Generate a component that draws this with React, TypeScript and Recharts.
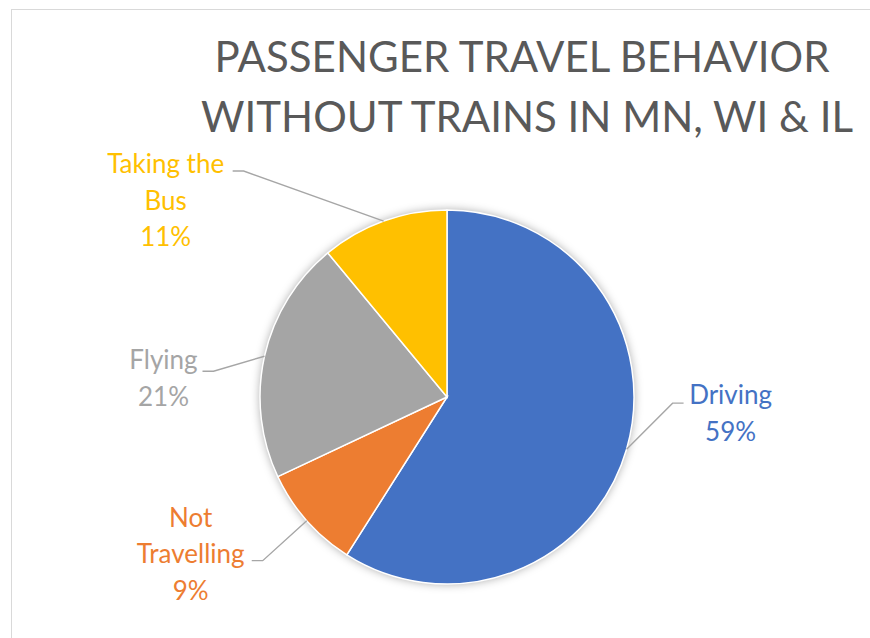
import { Cell, Pie, PieChart } from 'recharts'

const categories = ['Driving', 'Not Travelling', 'Flying', 'Taking the Bus']
const shares = [59, 9, 21, 11]
const labelLines = [['Driving'], ['Not', 'Travelling'], ['Flying'], ['Taking the', 'Bus']]
const titleLines = ['PASSENGER TRAVEL BEHAVIOR', 'WITHOUT TRAINS IN MN, WI & IL']

const COLORS = ['#4472C4', '#ED7D31', '#A5A5A5', '#FFC000']
const FONT = 'Lato, "Open Sans", sans-serif'
const NO_MARGIN = { top: 0, right: 0, bottom: 0, left: 0 }

// leader line layout, relative to the slice's outer edge point
const labelLayout = [
  { elbowX: 46, elbowY: -46, side: 1, textX: 47, textY: 1 },
  { elbowX: -44, elbowY: 40, side: -1, textX: -61, textY: -34 },
  { elbowX: -51, elbowY: 15, side: -1, textX: -39, textY: -2 },
  { elbowX: -140, elbowY: -50, side: -1, textX: -67, textY: 2 },
]

const data = categories.map((name, i) => ({ name, value: shares[i] }))
const RAD = Math.PI / 180

function renderLabel(props: any) {
  const { cx, cy, midAngle, outerRadius, percent, index } = props
  const lay = labelLayout[index]
  const ex = cx + outerRadius * Math.cos(-midAngle * RAD)
  const ey = cy + outerRadius * Math.sin(-midAngle * RAD)
  const bx = ex + lay.elbowX
  const by = ey + lay.elbowY
  const lx = bx + lay.side * 11
  const lines = [...labelLines[index], `${Math.round(percent * 100)}%`]
  return (
    <g key={`lbl-${index}`}>
      <polyline points={`${ex},${ey} ${bx},${by} ${lx},${by}`} fill="none" stroke="#A6A6A6" strokeWidth={1.4} />
      <text textAnchor="middle" fill={COLORS[index]} fontSize={26} fontFamily={FONT}>
        {lines.map((l, j) => (
          <tspan key={j} x={lx + lay.textX} y={by + lay.textY + j * 36.5}>
            {l}
          </tspan>
        ))}
      </text>
    </g>
  )
}

export default function App() {
  const pieProps = {
    data,
    dataKey: 'value',
    nameKey: 'name',
    cx: 447,
    cy: 397,
    outerRadius: 187,
    startAngle: 90,
    endAngle: -270,
    isAnimationActive: false,
  }
  return (
    <div style={{ position: 'absolute', left: 0, top: 0, width: 870, height: 638, overflow: 'hidden', background: '#fff' }}>
      <div style={{ position: 'absolute', left: 11, top: 9, width: 900, height: 700, border: '1px solid #D9D9D9' }} />
      <svg width={870} height={638} style={{ position: 'absolute', left: 0, top: 0 }}>
        {titleLines.map((t, i) => (
          <text key={t} x={i === 0 ? 522 : 527} y={72 + i * 60} textAnchor="middle" fill="#595959" fontSize={42} fontFamily={FONT}>
            {t}
          </text>
        ))}
      </svg>
      {/* soft shadow under the pie */}
      <div style={{ position: 'absolute', left: 0, top: 0, filter: 'drop-shadow(0 0 5px rgba(0,0,0,0.35))' }}>
        <PieChart width={870} height={638} margin={NO_MARGIN}>
          <Pie {...pieProps} fill="#fff" stroke="none" />
        </PieChart>
      </div>
      <div style={{ position: 'absolute', left: 0, top: 0 }}>
        <PieChart width={870} height={638} margin={NO_MARGIN}>
          <Pie {...pieProps} stroke="#fff" strokeWidth={1.5} label={renderLabel} labelLine={false}>
            {data.map((d, i) => (
              <Cell key={d.name} fill={COLORS[i]} />
            ))}
          </Pie>
        </PieChart>
      </div>
    </div>
  )
}
